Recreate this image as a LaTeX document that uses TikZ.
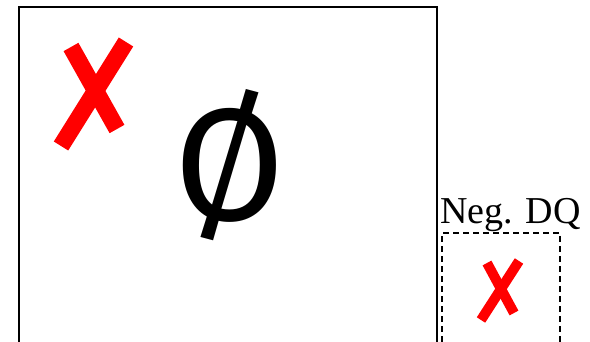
\documentclass[tikz,border=0pt]{standalone}
\usepackage{fontspec}
\setmainfont{Liberation Serif}
\newfontfamily\symfont{Fira Sans}
\tikzset{
  mainbox/.style={draw=black, line width=1.6pt},
  dqbox/.style={draw=black, line width=1.6pt, dash pattern=on 6pt off 4pt},
  crossline/.style={draw=red, line cap=butt},
}
\begin{document}
\begin{tikzpicture}[x=1pt,y=1pt]
\useasboundingbox (0,0) rectangle (590,342);
\clip (0,0) rectangle (590,342);
\draw[mainbox] (19,-20) rectangle (437,335);
\draw[dqbox] (442,-20) rectangle (560,109);
% large cross
\coordinate (a1) at (61,196);
\coordinate (a2) at (126,300);
\coordinate (b1) at (71,295);
\coordinate (b2) at (117,213);
\draw[crossline, line width=17pt] (a1) -- (a2);
\draw[crossline, line width=17pt] (b1) -- (b2);
\node[inner sep=0pt, font=\symfont\fontsize{160}{160}\selectfont] (empty) at (229.5,177) {Ø};
\node[inner sep=0pt, font=\fontsize{38}{38}\selectfont, anchor=base west] (lbl) at (440,118) {Neg. DQ};
% small cross
\coordinate (c1) at (481,22);
\coordinate (c2) at (519,81);
\coordinate (d1) at (487,79);
\coordinate (d2) at (514,29);
\draw[crossline, line width=10pt] (c1) -- (c2);
\draw[crossline, line width=10pt] (d1) -- (d2);
\end{tikzpicture}
\end{document}
